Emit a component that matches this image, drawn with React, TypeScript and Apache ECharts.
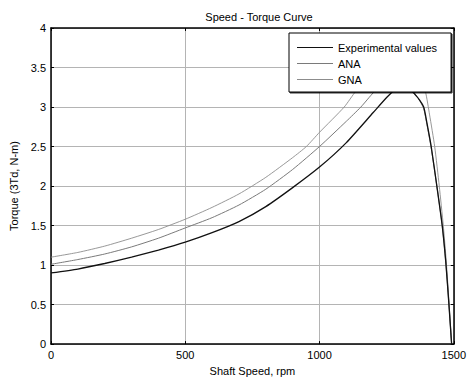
import React, { useEffect, useRef } from "react";
import * as echarts from "echarts";

const titleText = "Speed - Torque Curve";
const xName = "Shaft Speed, rpm";
const yName = "Torque (3Td, N-m)";
const seriesNames = ["Experimental values", "ANA", "GNA"];

const expSpeed = [0, 100, 200, 300, 400, 500, 600, 700, 800, 900, 1000, 1100, 1200, 1250, 1280, 1310, 1330, 1345, 1370, 1388, 1400, 1416, 1437, 1457, 1470, 1481, 1492];
const expTorque = [0.9, 0.95, 1.02, 1.1, 1.19, 1.29, 1.41, 1.55, 1.74, 1.98, 2.24, 2.55, 2.93, 3.12, 3.22, 3.28, 3.26, 3.2, 3.1, 3.0, 2.8, 2.5, 2.0, 1.5, 1.05, 0.55, 0];

const anaSpeed = [0, 100, 200, 300, 400, 500, 600, 700, 800, 900, 1000, 1100, 1154, 1200, 1250, 1290, 1320, 1345, 1370, 1388, 1400, 1416, 1437, 1457, 1470, 1481, 1492];
const anaTorque = [1.01, 1.07, 1.14, 1.23, 1.34, 1.47, 1.6, 1.76, 1.96, 2.21, 2.5, 2.82, 3.0, 3.18, 3.35, 3.44, 3.38, 3.22, 3.1, 2.98, 2.78, 2.48, 2.0, 1.5, 1.05, 0.55, 0];

const gnaSpeed = [0, 100, 200, 300, 400, 500, 600, 700, 800, 900, 951, 1000, 1092, 1135, 1200, 1260, 1320, 1360, 1394, 1410, 1429, 1446, 1461, 1472, 1482, 1492];
const gnaTorque = [1.1, 1.16, 1.24, 1.34, 1.45, 1.58, 1.73, 1.9, 2.11, 2.36, 2.5, 2.68, 3.0, 3.2, 3.45, 3.62, 3.68, 3.5, 3.2, 2.9, 2.5, 2.0, 1.5, 1.05, 0.55, 0];

const zip = (xs: number[], ys: number[]) => xs.map((x, i) => [x, ys[i]]);

const FONT = "'Liberation Sans', Arial, sans-serif";

export default function App() {
  const ref = useRef<HTMLDivElement>(null);
  useEffect(() => {
    if (!ref.current) return;
    const chart = echarts.init(ref.current, undefined, { renderer: "svg" });
    const axisCommon = {
      axisLine: { show: true, onZero: false, lineStyle: { color: "#000", width: 1.5 } },
      axisTick: { show: true, inside: true, length: 3, lineStyle: { color: "#000" } },
    };
    const plain = (v: number) => String(v);
    chart.setOption({
      animation: false,
      backgroundColor: "#fff",
      textStyle: { fontFamily: FONT },
      title: {
        text: titleText,
        left: 254,
        textAlign: "center",
        top: 6,
        textStyle: { fontSize: 11, fontWeight: "normal", color: "#000", fontFamily: FONT },
      },
      grid: { left: 51, right: 12, top: 28, bottom: 34, containLabel: false },
      legend: {
        z: 20,
        zlevel: 0,
        data: seriesNames.map((n) => ({ name: n, icon: "rect" })),
        orient: "vertical",
        left: 289,
        top: 33,
        itemWidth: 36,
        itemHeight: 1.2,
        itemGap: 3,
        padding: [8, 14, 6, 8],
        backgroundColor: "#fff",
        borderColor: "#000",
        borderWidth: 1,
        shadowColor: "rgba(0,0,0,0.8)",
        shadowOffsetX: 1,
        shadowOffsetY: 1,
        shadowBlur: 0,
        textStyle: { fontSize: 11, color: "#000", fontFamily: FONT, lineHeight: 13 },
      },
      xAxis: [
        {
          type: "value",
          min: 0,
          max: 1500,
          interval: 500,
          name: xName,
          nameLocation: "middle",
          nameGap: 20,
          nameTextStyle: { fontSize: 11, color: "#000", fontFamily: FONT },
          axisLabel: { fontSize: 11, color: "#000", margin: 5, fontFamily: FONT, formatter: plain },
          splitLine: { show: true, lineStyle: { color: "#b4b4b4", width: 1 } },
          ...axisCommon,
        },
        {
          type: "value",
          position: "top",
          min: 0,
          max: 1500,
          interval: 500,
          axisLabel: { show: false },
          splitLine: { show: false },
          ...axisCommon,
        },
      ],
      yAxis: [
        {
          type: "value",
          min: 0,
          max: 4,
          interval: 0.5,
          name: yName,
          nameLocation: "middle",
          nameGap: 24,
          nameTextStyle: { fontSize: 11, color: "#000", fontFamily: FONT },
          axisLabel: { fontSize: 11, color: "#000", margin: 5, fontFamily: FONT, formatter: plain },
          splitLine: { show: true, lineStyle: { color: "#b4b4b4", width: 1 } },
          ...axisCommon,
        },
        {
          type: "value",
          position: "right",
          min: 0,
          max: 4,
          interval: 0.5,
          axisLabel: { show: false },
          splitLine: { show: false },
          ...axisCommon,
        },
      ],
      series: [
        {
          name: seriesNames[0],
          type: "line",
          data: zip(expSpeed, expTorque),
          symbol: "none",
          smooth: 0.2,
          lineStyle: { color: "#111", width: 1.3 },
          itemStyle: { color: "#111" },
          z: 5,
        },
        {
          name: seriesNames[1],
          type: "line",
          data: zip(anaSpeed, anaTorque),
          symbol: "none",
          smooth: 0.2,
          lineStyle: { color: "#7a7a7a", width: 1 },
          itemStyle: { color: "#7a7a7a" },
          z: 4,
        },
        {
          name: seriesNames[2],
          type: "line",
          data: zip(gnaSpeed, gnaTorque),
          symbol: "none",
          smooth: 0.2,
          lineStyle: { color: "#8c8c8c", width: 0.9 },
          itemStyle: { color: "#8c8c8c" },
          z: 3,
        },
      ],
    });
    return () => chart.dispose();
  }, []);
  return <div ref={ref} style={{ width: 469, height: 381, position: "absolute", left: 0, top: 0 }} />;
}
